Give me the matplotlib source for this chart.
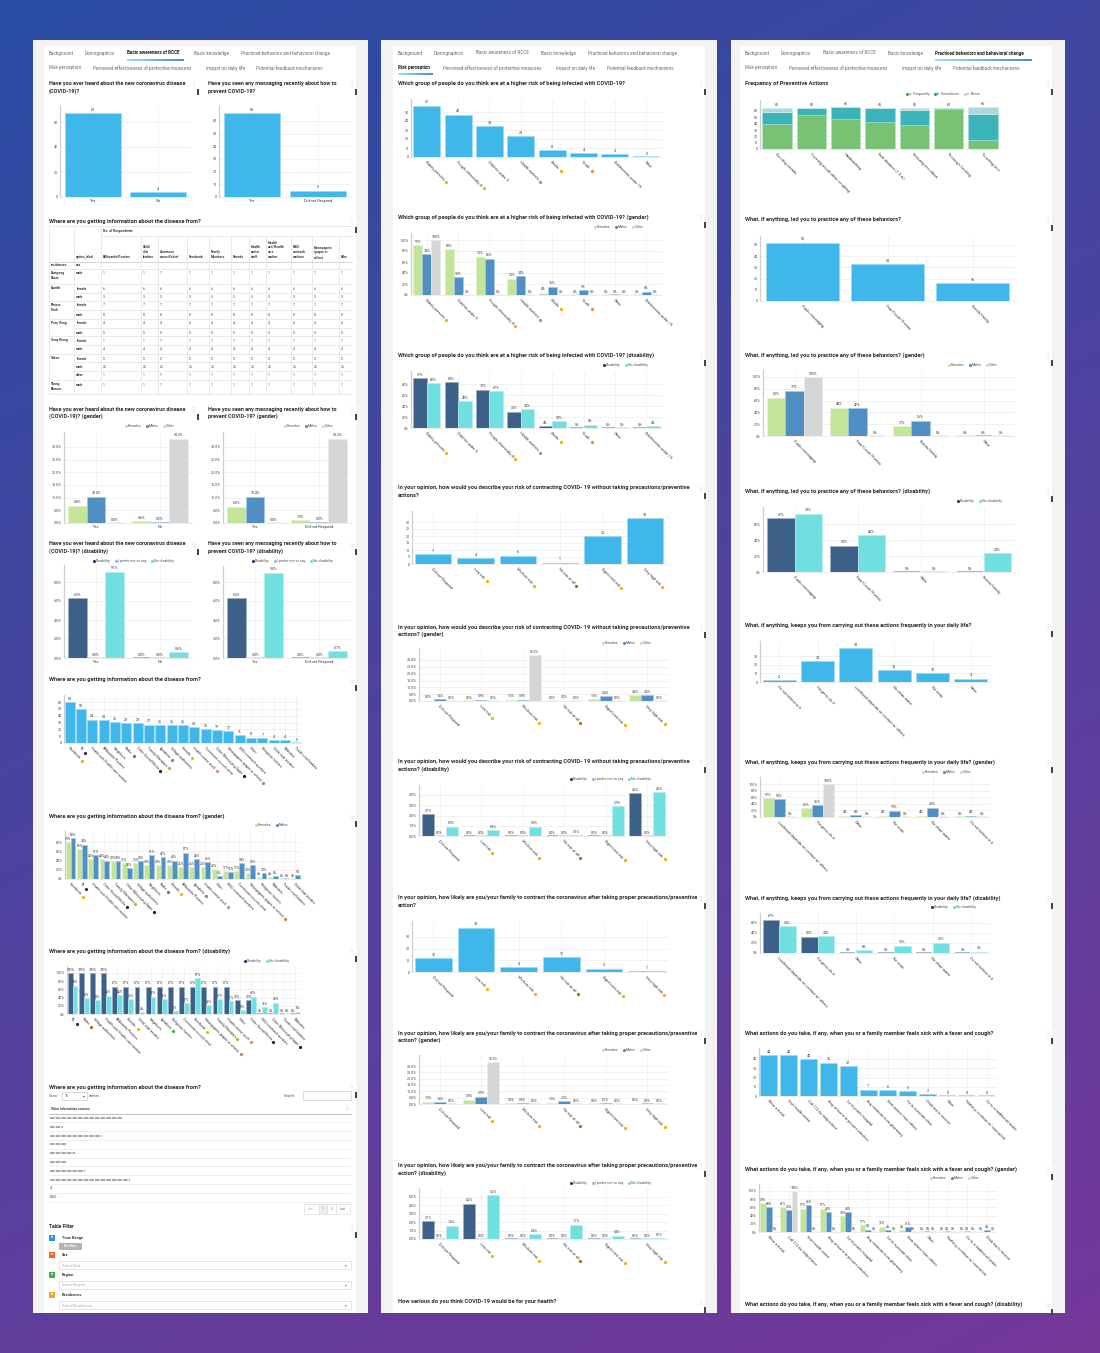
import numpy as np
import matplotlib
matplotlib.use('Agg')
import matplotlib.pyplot as plt
from matplotlib.patches import Rectangle
from matplotlib.colors import to_rgb

plt.rcParams['font.family'] = ['Roboto', 'DejaVu Sans']

# ======================= DATA =======================
tabs_row1 = ['Background', 'Demographics', 'Basic awareness of RCCE', 'Basic knowledge',
             'Practiced behaviors and behavioral change']
tabs_row2 = ['Risk perception', 'Perceived effectiveness of protective measures',
             'Impact on daily life', 'Potential feedback mechanisms']

# Panel 1 -- Basic awareness of RCCE
aware_cats = ['Yes', 'No']
aware_vals = [67, 4]
msg_cats = ['Yes', 'Did not Respond']
msg_vals = [66, 5]
aware_g_fem = [6.8, 0.6]
aware_g_mal = [10.4, 0.2]
aware_g_oth = [0.0, 33.3]
msg_g_fem = [6.5, 1.0]
msg_g_mal = [10.4, 0.2]
msg_g_oth = [0.0, 33.3]
aware_d_dis = [6.3, 0.0]
aware_d_pns = [0.0, 0.0]
aware_d_nod = [9.1, 0.6]
msg_d_dis = [6.3, 0.0]
msg_d_pns = [0.0, 0.0]
msg_d_nod = [9.0, 0.7]

tbl_cols = ['Billboards/Posters', 'Child\nclub\nleaders', 'Commune\ncouncil/chief', 'Facebook',
            'Family\nMembers', 'Friends', 'Health\ncenter\nstaff', 'Health\nunit/Health\ncare\nworker',
            'NGO\noutreach\nworkers', 'Newspapers\n(paper or\nonline)', 'Othe']
tbl_res = ['Kampong\nCham', 'Kandal', '', 'Phnom\nPenh', '', 'Prey Veng', '', 'Svay Rieng', '',
           'Takeo', '', '', 'Tbong\nKhmum']
tbl_sex = ['male', 'female', 'male', 'female', 'male', 'female', 'male', 'female', 'male',
           'female', 'male', 'other', 'male']
tbl_n = [1, 6, 3, 7, 8, 4, 5, 1, 4, 5, 25, 1, 1]

src_cats = ['Facebook', 'TV', 'Health unit/Health care worker', 'Billboards/Posters', 'Neighbors',
            'Radio', 'Other Social Media', 'Family Members', 'Speakers', 'Village authorities',
            'Friends', 'Health center staff', 'Commune council/chief', 'Other Messaging Apps',
            'Newspapers (paper or online)', 'NGO outreach workers', 'Other', 'Religious leaders',
            'Child club leaders', 'Websites', 'Traditional leaders']
src_vals = [60, 50, 34, 33, 31, 29, 29, 27, 26, 26, 26, 23, 20, 19, 17, 11, 8, 7, 4, 4, 0]

srcg_cats = ['Facebook', 'TV', 'Health unit/Health care worker', 'Other Social Media', 'Family Members',
             'Other Messaging Apps', 'Village authorities', 'Neighbors', 'Radio', 'Friends',
             'Billboards/Posters', 'Speakers', 'Health center staff', 'Other', 'NGO outreach workers',
             'Commune council/chief', 'Newspapers (paper or online)', 'Religious leaders', 'Websites',
             'Traditional leaders', 'Child club leaders']
srcg_fem = [79, 65, 43, 43, 39, 35, 35, 30, 30, 30, 26, 26, 26, 22, 17, 17, 13, 4, 4, 0, 0]
srcg_mal = [89, 74, 51, 40, 38, 23, 38, 51, 47, 40, 57, 43, 36, 6, 15, 34, 30, 13, 6, 0, 9]

srcd_cats = ['TV', 'Radio', 'Village authorities', 'Health unit/Health care worker', 'Billboards/Posters',
             'Friends', 'Child club leaders', 'Neighbors', 'Speakers', 'Religious leaders',
             'Commune council/chief', 'Facebook', 'Newspapers (paper or online)', 'Family Members',
             'Health center staff', 'Other', 'Other Social Media', 'NGO outreach workers',
             'Other Messaging Apps', 'Traditional leaders', 'Websites']
srcd_dis = [100, 100, 100, 100, 67, 67, 67, 67, 67, 67, 67, 67, 67, 67, 67, 33, 33, 0, 0, 0, 0]
srcd_nod = [69, 39, 34, 45, 46, 36, 4, 42, 36, 7, 27, 87, 22, 37, 31, 10, 42, 16, 28, 0, 6]

other_src_rows = ['kh1', 'kh2', 'kh3', 'kh4', 'kh5', 'kh6', 'kh7', 'kh8', '4', 'NGO']
other_src_len = [72, 13, 52, 16, 25, 17, 35, 80, 0, 0]

filter_names = ['Time Range', 'Sex', 'Region', 'Residences']
filter_colors = ['#2196f3', '#f26a21', '#43b04a', '#f5a623']

# Panel 2 -- Risk perception
risk_cats = ['Elderly persons', 'People chronically ill', 'Children under 5', 'Health workers',
             'Adults', 'Youth', 'Adolescents under 19', 'Other']
risk_vals = [57, 47, 34, 23, 8, 4, 3, 0]
riskg_cats = ['Elderly persons', 'Children under 5', 'People chronically ill', 'Health workers',
              'Adults', 'Youth', 'Other', 'Adolescents under 19']
riskg_fem = [91, 83, 70, 30, 4, 0, 0, 0]
riskg_mal = [74, 32, 66, 34, 15, 9, 0, 6]
riskg_oth = [100, 0, 0, 0, 0, 0, 0, 0]
riskd_dis = [91, 83, 70, 30, 4, 0, 0, 0]
riskd_nod = [82, 49, 67, 34, 12, 6, 0, 4]

lvl_cats = ['Did not Respond', 'Low risk', 'Medium risk', 'No risk at all', 'Significant risk',
            'Very high risk']
self_vals = [7, 4, 6, 1, 20, 33]
selfg_fem = [0.3, 0.0, 1.0, 0.0, 1.6, 4.5]
selfg_mal = [1.4, 0.9, 0.9, 0.2, 3.4, 4.3]
selfg_oth = [0.0, 0.0, 33.3, 0.0, 0.0, 0.0]
selfd_dis = [2.1, 0.0, 0.0, 0.0, 0.0, 4.2]
selfd_pns = [0.0, 0.0, 0.0, 0.0, 0.0, 0.0]
selfd_nod = [0.9, 0.6, 0.9, 0.1, 2.9, 4.3]
likely_vals = [12, 38, 4, 13, 3, 1]
likelyg_fem = [1.9, 3.5, 0.6, 1.0, 0.0, 0.3]
likelyg_mal = [1.4, 5.9, 0.5, 2.3, 0.7, 0.0]
likelyg_oth = [0.0, 33.3, 0.0, 0.0, 0.0, 0.0]
likelyd_dis = [2.1, 4.2, 0.0, 0.0, 0.0, 0.0]
likelyd_pns = [0.0, 0.0, 0.0, 0.0, 0.0, 0.0]
likelyd_nod = [1.6, 5.2, 0.6, 1.7, 0.4, 0.1]

# Panel 3 -- Practiced behaviors
freq_cats = ['Avoiding crowds', 'Covering mouth when coughing', 'Handwashing', 'Safe distance (1.5 m)',
             'Sneezing into elbow', 'Thorough Cooking', 'Touching face']
freq_often = [39, 53, 47, 42, 38, 63, 15]
freq_some = [20, 12, 19, 22, 23, 2, 41]
freq_never = [6, 0, 0, 1, 4, 0, 10]

led_cats = ['Public messaging', 'Fear/Covid-19 news', 'Friends/family']
led_vals = [52, 33, 16]
ledg_cats = ['Public messaging', 'Fear/Covid-19 news', 'Friends/family', 'Other']
ledg_fem = [65, 48, 17, 0]
ledg_mal = [77, 47, 26, 0]
ledg_oth = [100, 0, 0, 0]
ledd_cats = ['Public messaging', 'Fear/Covid-19 news', 'Other', 'Friends/family']
ledd_dis = [67, 33, 0, 0]
ledd_nod = [73, 46, 0, 24]

keep_cats = ['Do not believe in it', 'Forget to do it', 'Livelihood depends on contact w/ others',
             'No clean water', 'No soap', 'Other']
keep_vals = [2, 24, 39, 14, 10, 4]
keepg_cats = ['Livelihood depends on contact w/ others', 'Forget to do it', 'Other', 'No soap',
              'No clean water', 'Do not believe in it']
keepg_fem = [57, 26, 4, 4, 4, 0]
keepg_mal = [55, 36, 6, 19, 28, 4]
keepg_oth = [0, 100, 0, 0, 0, 0]
keepd_dis = [67, 33, 0, 0, 0, 0]
keepd_nod = [54, 34, 6, 15, 21, 3]

sick_cats = ['Wear a mask', 'Visit health center', 'Call 115 for help/advice',
             'Stay at home to prevent infection', 'Go to public hospital', 'Buy medicine from pharmacy',
             'Seek advice from others', 'Go to a private clinic', 'Drink tea to recover', 'Other',
             'Nothing, continue w/ normal life', 'Go to a traditional healer']
sick_vals = [44, 44, 40, 36, 32, 7, 6, 5, 2, 0, 0, 0]
sickg_cats = ['Wear a mask', 'Call 115 for help/advice', 'Visit health center',
              'Stay at home to prevent infection', 'Go to public hospital', 'Buy medicine from pharmacy',
              'Go to a private clinic', 'Seek advice from others', 'Other',
              'Nothing, continue w/ normal life', 'Go to a traditional healer', 'Drink tea to recover']
sickg_fem = [70, 61, 57, 57, 39, 17, 13, 4, 0, 0, 0, 0]
sickg_mal = [60, 53, 66, 49, 49, 6, 4, 11, 0, 0, 0, 4]
sickg_oth = [0, 100, 0, 0, 0, 0, 0, 0, 0, 0, 0, 0]

# emoji marks after some category names
emoji_src = {'Facebook': '#f4b400', 'TV': '#333333', 'Radio': '#b0662a', 'Other Social Media': '#222222',
             'Family Members': '#d9a040', 'Speakers': '#4caf50', 'Friends': '#f4b400',
             'Health center staff': '#d88a8a', 'Other Messaging Apps': '#222222',
             'Newspapers (paper or online)': '#c08850'}
emoji_risk = {'Elderly persons': '#f4b400', 'People chronically ill': '#f4b400',
              'Health workers': '#8a96c8', 'Adults': '#f4b400', 'Youth': '#f08a30'}
emoji_lvl = {'Low risk': '#f4b400', 'Medium risk': '#f4b400', 'No risk at all': '#b07010',
             'Significant risk': '#f4b400', 'Very high risk': '#f4b400'}

# ======================= STYLE =======================
C_BAR = '#3fb7ea'
C_F, C_M, C_O = '#c3e59a', '#4f8fc4', '#d6d6d6'
C_DIS, C_PNS, C_NOD = '#3d6088', '#92bde6', '#6fdfe0'
C_FREQ = ['#78c274', '#3ab4b9', '#aad9de']
TXT = '#2e2e2e'

W, H = 1100, 1353
fig = plt.figure(figsize=(W / 100, H / 100), dpi=100)
bg = fig.add_axes([0, 0, 1, 1])
bg.axis('off')
yy, xx = np.mgrid[0:1:200j, 0:1:200j]
tt = np.clip(0.72 * yy + 0.28 * xx, 0, 1)[..., None]
c0 = np.array([0.16, 0.30, 0.64])
c1 = np.array([0.46, 0.22, 0.60])
bg.imshow(c0 * (1 - tt) + c1 * tt, extent=(0, W, H, 0), aspect='auto', zorder=0,
          interpolation='bilinear')
bg.set_xlim(0, W)
bg.set_ylim(H, 0)
R = fig.canvas.get_renderer()


def lighten(c, f=0.45):
    return tuple(np.array(to_rgb(c)) * (1 - f) + f)


def px_axes(l, t, w, h):
    return fig.add_axes([l / W, 1 - (t + h) / H, w / W, h / H])


panels = [(33, 368, 44, 356), (381, 717, 393, 705), (731, 1065, 740, 1052)]
for p0, p1, w0, w1 in panels:
    bg.add_patch(Rectangle((p0, 40), p1 - p0, 1273, fc='#f3f3f3', ec='none', zorder=1))
    bg.add_patch(Rectangle((w0, 46), w1 - w0, 1267, fc='white', ec='none', zorder=1))

tab_pos = [([49, 85, 127, 194, 241], [49, 93, 206, 256], (0, 2), (127, 184, 60)),
           ([398, 434, 476, 541, 588], [398, 443, 556, 607], (1, 0), (398, 433, 74)),
           ([745, 781, 823, 888, 935], [745, 789, 902, 953], (0, 4), (935, 1032, 60))]
for r1, r2, act, ul in tab_pos:
    for row, (labels, xs, yv) in enumerate([(tabs_row1, r1, 53), (tabs_row2, r2, 68)]):
        for k, (lab, xv) in enumerate(zip(labels, xs)):
            bold = (row, k) == act
            bg.text(xv, yv, lab, fontsize=3.35, va='center', ha='left',
                    color='#222' if bold else '#6a6a6a', fontweight='bold' if bold else 'normal', zorder=3)
    xa, xb, yu = ul
    nseg = 24
    for s in range(nseg):
        f = s / (nseg - 1)
        col = np.array(to_rgb('#8fd8f7')) * (1 - f) + np.array(to_rgb('#3d7fbf')) * f
        bg.plot([xa + (xb - xa) * s / nseg, xa + (xb - xa) * (s + 1) / nseg], [yu, yu], color=col,
                lw=1.3, solid_capstyle='butt', zorder=3)


def title(x, y, lines, fs=4.15):
    for i, ln in enumerate(lines):
        bg.text(x, y + i * 7.5, ln, fontsize=fs, fontweight='bold', va='center', ha='left',
                color=TXT, zorder=3)


def deco(xr, y):
    bg.text(xr - 5, y, '\u22ee', fontsize=4.5, color='#9a9a9a', ha='center', va='center', zorder=3,
            family='DejaVu Sans')
    bg.add_patch(Rectangle((xr - 0.6, y + 5), 1.3, 6, fc='#444444', ec='none', zorder=3))


def legend(x, y, items, fs=2.6):
    for lab, col in items:
        bg.scatter([x + 1.6], [y], s=5, color=col, zorder=6, linewidths=0)
        tx = bg.text(x + 3.6, y, lab, fontsize=fs, va='center', ha='left', color='#555', zorder=6)
        w = tx.get_window_extent(renderer=R).width
        x += 3.6 + w + 4


LEG_G = [('Females', C_F), ('Males', C_M), ('Other', C_O)]
LEG_D3 = [('Disability', '#1f3f6e'), ('I prefer not to say', C_PNS), ('No disability', C_NOD)]
LEG_D2 = [('Disability', '#1f3f6e'), ('No disability', C_NOD)]

emoji_jobs = []


def f_int(v):
    return f'{v:g}'


def f_p0(v):
    return f'{v:.0f}%'


def f_p1(v):
    return f'{v:.1f}%'


def chart(geom, cats, series, colors, ticks, tfmt, vfmt, rot=True, emoji=None, stacked=False,
          lab_fs=2.8, val_fs=2.5):
    l, r, yz, ytp, ytv = geom
    ppu = (yz - ytp) / ytv
    arr = [np.asarray(s, float) for s in series]
    dmax = np.sum(arr, axis=0).max() if stacked else max(a.max() for a in arr)
    ymax = max(dmax, ytv) + 7 / ppu
    top = yz - ymax * ppu
    ax = px_axes(l, top, r - l, yz - top)
    ax.patch.set_alpha(0)
    n = len(cats)
    ax.set_xlim(-0.5, n - 0.5)
    ax.set_ylim(0, ymax)
    for tk in ticks:
        ax.axhline(tk, color='#ebebeb', lw=0.5, zorder=0)
    for i in range(n):
        ax.axvline(i, color='#eeeeee', lw=0.5, zorder=0)
    k = len(arr)
    if stacked or k == 1:
        w = 0.86
        offs = [0.0] * k
    else:
        w = 0.86 / k
        offs = [-0.43 + w * (j + 0.5) for j in range(k)]
    bottoms = np.zeros(n)
    xs = np.arange(n)
    for j, (vals, c) in enumerate(zip(arr, colors)):
        x = xs + offs[j]
        ax.bar(x, vals, w, bottom=bottoms if stacked else 0, color=c,
               edgecolor=lighten(c, 0.5), linewidth=0.5, zorder=2)
        if not stacked:
            z = vals == 0
            if z.any():
                ax.bar(x[z], 1.0 / ppu, w * 0.95, color=lighten(c, 0.55), lw=0, zorder=2)
            if vfmt is not None:
                for xi, v in zip(x, vals):
                    ax.text(xi, v + 1.3 / ppu, vfmt(v), ha='center', va='bottom', fontsize=val_fs,
                            color='#333', zorder=4)
        else:
            bottoms = bottoms + vals
    if stacked:
        for xi, v in zip(xs, bottoms):
            ax.text(xi, v + 1.3 / ppu, f_int(v), ha='center', va='bottom', fontsize=val_fs,
                    color='#333', zorder=4)
    ax.set_yticks(ticks)
    ax.set_yticklabels([tfmt(t) for t in ticks], fontsize=2.6, color='#444')
    ax.tick_params(axis='y', length=0, pad=1.5)
    ax.set_xticks(xs)
    if rot:
        ax.set_xticklabels(cats, rotation=-45, ha='left', va='top', rotation_mode='anchor',
                           fontsize=lab_fs, color='#333')
        ax.tick_params(axis='x', length=0, pad=2)
    else:
        ax.set_xticklabels(cats, fontsize=lab_fs, color='#333')
        ax.tick_params(axis='x', length=0, pad=1.5)
    for s in ['top', 'right']:
        ax.spines[s].set_visible(False)
    ax.spines['left'].set_color('#cfcfcf')
    ax.spines['left'].set_linewidth(0.9)
    ax.spines['bottom'].set_color('#e4e4e4')
    ax.spines['bottom'].set_linewidth(0.5)
    if emoji:
        emoji_jobs.append((ax, emoji))
    return ax


# ======================= PANEL 1 =======================
HF = 3.95
T1 = ['Have you ever heard about the new coronavirus disease', '(COVID-19)?']
T2 = ['Have you seen any messaging recently about how to', 'prevent COVID-19?']
title(49, 84, T1, fs=HF)
title(208, 84, T2, fs=HF)
deco(198, 84)
deco(356, 84)
chart((60, 191, 197, 122, 60), aware_cats, [aware_vals], [C_BAR], [0, 20, 40, 60], f_int, f_int, rot=False)
chart((219, 351, 197, 121, 60), msg_cats, [msg_vals], [C_BAR], [0, 10, 20, 30, 40, 50, 60], f_int, f_int,
      rot=False)

# table
title(49, 222, ['Where are you getting information about the disease from?'])
deco(356, 222)
col_x = [49, 74, 101, 141, 158, 187, 209, 231, 249, 266, 291, 312, 339, 352]
row_top = [269, 284, 293, 301, 310, 319, 328, 336, 345, 354, 362, 371, 380, 394]
LC = '#e2e2e2'
bg.plot([49, 352], [226, 226], color=LC, lw=0.5, zorder=3)
bg.plot([101, 352], [236, 236], color=LC, lw=0.5, zorder=3)
bg.plot([49, 352], [262, 262], color='#cfcfcf', lw=0.6, zorder=3)
for i, yt in enumerate(row_top):
    x_start = 49 if (i == 0 or i == len(row_top) - 1 or tbl_res[i] != '') else 74
    bg.plot([x_start, 352], [yt, yt], color=LC, lw=0.5, zorder=3)
for xv in col_x[:-1]:
    bg.plot([xv, xv], [226 if xv <= 101 else 236, 394], color=LC, lw=0.5, zorder=3)
bg.text(103, 231, 'No. of Respondents', fontsize=2.4, va='center', color='#333', fontweight='bold', zorder=4)
bg.text(76, 259, 'option_label', fontsize=2.4, va='bottom', color='#333', fontweight='bold', zorder=4)
for k, lab in enumerate(tbl_cols):
    bg.text(col_x[k + 2] + 2, 259, lab, fontsize=2.4, va='bottom', ha='left', color='#333',
            fontweight='bold', linespacing=1.25, zorder=4)
bg.text(51, 265.5, 'residences', fontsize=2.4, va='center', color='#333', fontweight='bold', zorder=4)
bg.text(76, 265.5, 'sex', fontsize=2.4, va='center', color='#333', fontweight='bold', zorder=4)
for i in range(len(tbl_n)):
    yc = row_top[i] + 4.5
    if tbl_res[i]:
        bg.text(51, row_top[i] + 2, tbl_res[i], fontsize=2.4, va='top', color='#333', fontweight='bold',
                linespacing=1.3, zorder=4)
    bg.text(76, yc, tbl_sex[i], fontsize=2.4, va='center', color='#333', fontweight='bold', zorder=4)
    for k in range(len(tbl_cols)):
        bg.text(col_x[k + 2] + 2, yc, str(tbl_n[i]), fontsize=2.4, va='center', color='#444', zorder=4)

# gender / disability
title(49, 409, [T1[0], '(COVID-19)? (gender)'], fs=HF)
title(208, 409, [T2[0], 'prevent COVID-19? (gender)'], fs=HF)
deco(198, 409)
deco(356, 409)
legend(124, 426, LEG_G)
legend(283, 426, LEG_G)
pt5 = [0, 5, 10, 15, 20, 25, 30]
chart((64, 192, 523, 447, 30), aware_cats, [aware_g_fem, aware_g_mal, aware_g_oth], [C_F, C_M, C_O], pt5,
      f_p1, f_p1, rot=False)
chart((223, 351, 523, 447, 30), msg_cats, [msg_g_fem, msg_g_mal, msg_g_oth], [C_F, C_M, C_O], pt5,
      f_p1, f_p1, rot=False)

title(49, 544, [T1[0], '(COVID-19)? (disability)'], fs=HF)
title(208, 544, [T2[0], 'prevent COVID-19? (disability)'], fs=HF)
deco(198, 544)
deco(356, 544)
legend(92, 561, LEG_D3)
legend(251, 561, LEG_D3)
chart((64, 192, 658, 582, 8), aware_cats, [aware_d_dis, aware_d_pns, aware_d_nod], [C_DIS, C_PNS, C_NOD],
      [0, 2, 4, 6, 8], f_p1, f_p1, rot=False)
chart((223, 351, 658, 582, 8), msg_cats, [msg_d_dis, msg_d_pns, msg_d_nod], [C_DIS, C_PNS, C_NOD],
      [0, 2, 4, 6, 8], f_p1, f_p1, rot=False)

TS = 'Where are you getting information about the disease from?'
title(49, 680, [TS])
deco(356, 680)
chart((64, 302, 743, 702, 60), src_cats, [src_vals], [C_BAR], [0, 10, 20, 30, 40, 50, 60], f_int, f_int,
      emoji=emoji_src, lab_fs=2.6)
title(49, 816, [TS + ' (gender)'])
deco(356, 816)
legend(254, 825, LEG_G[:2])
chart((65, 301, 879, 842, 80), srcg_cats, [srcg_fem, srcg_mal], [C_F, C_M], [0, 20, 40, 60, 80], f_p0, f_p0,
      emoji=emoji_src, lab_fs=2.6, val_fs=2.3)
title(49, 951, [TS + ' (disability)'])
deco(356, 951)
legend(243, 961, LEG_D2)
chart((67, 301, 1014, 973, 100), srcd_cats, [srcd_dis, srcd_nod], [C_DIS, C_NOD], [0, 20, 40, 60, 80, 100],
      f_p0, f_p0, emoji=emoji_src, lab_fs=2.6, val_fs=2.3)

# data table
title(49, 1087, [TS])
deco(356, 1087)
bg.text(49, 1096, 'Show', fontsize=2.6, va='center', color='#555', zorder=4)
bg.add_patch(Rectangle((62, 1092), 25, 8, fc='white', ec='#cccccc', lw=0.5, zorder=4))
bg.text(65, 1096, '10', fontsize=2.4, va='center', color='#555', zorder=5)
bg.text(84, 1096, '\u25be', fontsize=2.6, va='center', ha='center', color='#555', zorder=5,
        family='DejaVu Sans')
bg.text(89, 1096, 'entries', fontsize=2.6, va='center', color='#555', zorder=4)
bg.text(284, 1096, 'Search:', fontsize=2.6, va='center', color='#555', zorder=4)
bg.add_patch(Rectangle((303, 1091), 48, 9, fc='white', ec='#cccccc', lw=0.5, zorder=4))
bg.text(51, 1108.5, 'Other information sources', fontsize=2.4, va='center', color='#333',
        fontweight='bold', zorder=4)
bg.text(347, 1108.5, '\u21c5', fontsize=2.6, va='center', ha='center', color='#bbbbbb', zorder=4,
        family='DejaVu Sans')
bg.plot([49, 351], [1113.5, 1113.5], color='#bdbdbd', lw=0.7, zorder=4)
for i, (txt, ln) in enumerate(zip(other_src_rows, other_src_len)):
    yc = 1118 + 8.8 * i
    bg.plot([49, 351], [yc + 4.4, yc + 4.4], color='#e6e6e6', lw=0.5, zorder=4)
    if ln > 0:
        bg.plot([50, 50 + ln], [yc, yc], color='#a9a9a9', lw=1.5, dashes=(2.2, 0.5), zorder=4)
    else:
        bg.text(50, yc, txt, fontsize=2.5, va='center', color='#444', zorder=4)
pg = [('First', 304, 15, '#bbbbbb', 'white'), ('1', 319, 8, '#888888', '#eeeeee'),
      ('2', 327, 9, '#19a0b5', 'white'), ('Last', 336, 14, '#19a0b5', 'white')]
for lab, xv, wv, tc, fc in pg:
    bg.add_patch(Rectangle((xv, 1204), wv, 10, fc=fc, ec='#dddddd', lw=0.5, zorder=4))
    bg.text(xv + wv / 2, 1209, lab, fontsize=2.4, ha='center', va='center', color=tc, zorder=5)

bg.text(49, 1227, 'Table Filter', fontsize=3.6, va='center', fontweight='bold', color=TXT, zorder=4)
deco(356, 1227)
fy = [1238, 1255, 1275, 1295]
for name, col, yv in zip(filter_names, filter_colors, fy):
    bg.add_patch(Rectangle((49, yv - 3), 6, 6, fc=col, ec='none', zorder=4))
    bg.text(52, yv, '\u25bc', fontsize=2.0, ha='center', va='center', color='white', zorder=5,
            family='DejaVu Sans')
    bg.text(62, yv, name, fontsize=2.8, va='center', fontweight='bold', color='#333', zorder=4)
    if name == 'Time Range':
        bg.add_patch(Rectangle((59, yv + 4.5), 23, 7, fc='#b3b3b3', ec='none', zorder=4))
        bg.text(70.5, yv + 8, 'No filter', fontsize=2.4, ha='center', va='center', color='white',
                fontweight='bold', zorder=5)
    else:
        bg.add_patch(Rectangle((59, yv + 6), 292, 8, fc='white', ec='#d8d8d8', lw=0.5, zorder=4))
        bg.text(62, yv + 10, f'Select [{name}]', fontsize=2.5, va='center', color='#aaaaaa', zorder=5)
        bg.text(346, yv + 10, '\u25be', fontsize=2.6, va='center', ha='center', color='#777', zorder=5,
                family='DejaVu Sans')

# ======================= PANEL 2 =======================
TR = 'Which group of people do you think are at a higher risk of being infected with COVID-19?'
title(398, 84, [TR])
deco(705, 84)
chart((411, 662, 157, 112, 50), risk_cats, [risk_vals], [C_BAR], [0, 10, 20, 30, 40, 50], f_int, f_int,
      emoji=emoji_risk)
title(398, 217, [TR + ' (gender)'])
deco(705, 217)
legend(593, 227, LEG_G)
chart((411, 662, 295, 240, 100), riskg_cats, [riskg_fem, riskg_mal, riskg_oth], [C_F, C_M, C_O],
      [0, 20, 40, 60, 80, 100], f_p0, f_p0, emoji=emoji_risk)
title(398, 355, [TR + ' (disability)'])
deco(705, 355)
legend(602, 365, LEG_D2)
chart((411, 662, 428, 384, 80), riskg_cats, [riskd_dis, riskd_nod], [C_DIS, C_NOD], [0, 20, 40, 60, 80],
      f_p0, f_p0, emoji=emoji_risk)

TA = 'In your opinion, how would you describe your risk of contracting COVID- 19 without taking precautions/preventive'
title(398, 488, [TA, 'actions?'])
deco(705, 488)
chart((412, 666, 564, 522, 30), lvl_cats, [self_vals], [C_BAR], [0, 5, 10, 15, 20, 25, 30], f_int, f_int,
      emoji=emoji_lvl)
title(398, 627, [TA, 'actions? (gender)'])
deco(705, 627)
legend(601, 643, LEG_G)
chart((419, 668, 701, 660, 30), lvl_cats, [selfg_fem, selfg_mal, selfg_oth], [C_F, C_M, C_O], pt5, f_p1, f_p1,
      emoji=emoji_lvl, val_fs=2.3)
title(398, 762, [TA, 'actions? (disability)'])
deco(705, 762)
legend(569, 779, LEG_D3)
chart((419, 668, 836, 795, 4), lvl_cats, [selfd_dis, selfd_pns, selfd_nod], [C_DIS, C_PNS, C_NOD],
      [0, 1, 2, 3, 4], f_p1, f_p1, emoji=emoji_lvl, val_fs=2.3)

TB = ('In your opinion, how likely are you/your family to contract the coronavirus after taking proper '
      'precautions/preventive')
title(398, 898, [TB, 'action?'])
deco(705, 898)
chart((412, 668, 972, 937, 30), lvl_cats, [likely_vals], [C_BAR], [0, 10, 20, 30], f_int, f_int,
      emoji=emoji_lvl)
title(398, 1033, [TB, 'action? (gender)'])
deco(705, 1033)
legend(601, 1050, LEG_G)
chart((419, 668, 1104, 1066, 30), lvl_cats, [likelyg_fem, likelyg_mal, likelyg_oth], [C_F, C_M, C_O], pt5,
      f_p1, f_p1, emoji=emoji_lvl, val_fs=2.3)
title(398, 1166, [TB, 'action? (disability)'])
deco(705, 1166)
legend(569, 1183, LEG_D3)
chart((419, 668, 1239, 1197, 5), lvl_cats, [likelyd_dis, likelyd_pns, likelyd_nod], [C_DIS, C_PNS, C_NOD],
      [0, 1, 2, 3, 4, 5], f_p1, f_p1, emoji=emoji_lvl, val_fs=2.3)
title(398, 1302, ['How serious do you think COVID-19 would be for your health?'])
deco(705, 1302)

# ======================= PANEL 3 =======================
title(745, 84, ['Frequency of Preventive Actions'])
deco(1052, 84)
legend(905, 94, [('a. Frequently', '#43a83f'), ('b. Sometimes', '#1c9aa6'), ('c. Never', '#a9d8de')])
chart((760, 1000, 149, 111, 60), freq_cats, [freq_often, freq_some, freq_never], C_FREQ,
      [0, 10, 20, 30, 40, 50, 60], f_int, f_int, stacked=True)
TL = 'What, if anything, led you to practice any of these behaviors?'
title(745, 220, [TL])
deco(1052, 220)
chart((760, 1015, 301, 245, 50), led_cats, [led_vals], [C_BAR], [0, 10, 20, 30, 40, 50], f_int, f_int)
title(745, 355, [TL[:-1] + '? (gender)'])
deco(1052, 355)
legend(947, 365, LEG_G)
chart((763, 1015, 436, 377, 100), ledg_cats, [ledg_fem, ledg_mal, ledg_oth], [C_F, C_M, C_O],
      [0, 20, 40, 60, 80, 100], f_p0, f_p0)
title(745, 491, [TL[:-1] + '? (disability)'])
deco(1052, 491)
legend(956, 501, LEG_D2)
chart((763, 1015, 572, 524, 60), ledd_cats, [ledd_dis, ledd_nod], [C_DIS, C_NOD], [0, 20, 40, 60],
      f_p0, f_p0)

TK = 'What, if anything, keeps you from carrying out these actions frequently in your daily life?'
title(745, 626, [TK])
deco(1052, 626)
chart((760, 990, 682, 656, 30), keep_cats, [keep_vals], [C_BAR], [0, 10, 20, 30], f_int, f_int)
title(745, 762, [TK + ' (gender)'])
deco(1052, 762)
legend(921, 772, LEG_G)
chart((760, 990, 817, 784, 100), keepg_cats, [keepg_fem, keepg_mal, keepg_oth], [C_F, C_M, C_O],
      [0, 20, 40, 60, 80, 100], f_p0, f_p0)
title(745, 898, [TK + ' (disability)'])
deco(1052, 898)
legend(930, 907, LEG_D2)
chart((760, 990, 953, 923, 60), keepg_cats, [keepd_dis, keepd_nod], [C_DIS, C_NOD], [0, 20, 40, 60],
      f_p0, f_p0)

TF = 'What actions do you take, if any, when you or a family member feels sick with a fever and cough?'
title(745, 1033, [TF])
deco(1052, 1033)
chart((759, 997, 1096, 1059, 40), sick_cats, [sick_vals], [C_BAR], [0, 10, 20, 30, 40], f_int, f_int)
title(745, 1169, [TF + ' (gender)'])
deco(1052, 1169)
legend(929, 1178, LEG_G)
chart((759, 997, 1232, 1191, 100), sickg_cats, [sickg_fem, sickg_mal, sickg_oth], [C_F, C_M, C_O],
      [0, 20, 40, 60, 80, 100], f_p0, f_p0, val_fs=2.3)
title(745, 1304, [TF + ' (disability)'])
deco(1052, 1304)

# ======================= EMOJI MARKS =======================
fig.canvas.draw()
inv = bg.transData.inverted()
for ax, emap in emoji_jobs:
    for lab in ax.get_xticklabels():
        col = emap.get(lab.get_text())
        if col is None:
            continue
        bb = lab.get_window_extent(renderer=fig.canvas.get_renderer())
        xd, yd = inv.transform((bb.x1 + 1.0, bb.y0 - 1.0))
        bg.scatter([xd], [yd], s=5.5, color=col, linewidths=0, zorder=7)

fig.savefig('out.png', dpi=100)
